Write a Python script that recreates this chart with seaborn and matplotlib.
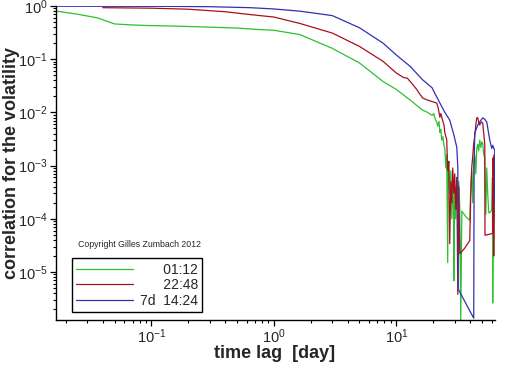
# volatility correlation vs time lag, log-log
import pandas as pd
import numpy as np
import matplotlib
matplotlib.use("Agg")
import matplotlib.pyplot as plt
import seaborn as sns

# series values (x: lag in days, y: correlation)
green_x = [0.0167, 0.025, 0.036, 0.05, 0.07, 0.092, 0.15, 0.3, 0.5, 0.77, 1.0, 1.63, 3.0, 5.0, 7.8,
           10.0, 13.0, 16.4, 18.0, 19.6, 20.2, 20.8, 21.4, 21.8, 22.3, 22.7, 23.1, 23.5, 24.0, 24.5,
           24.9, 25.4, 25.8, 26.3, 26.5, 26.8, 27.3, 27.9, 28.4, 28.9, 29.3, 29.5, 30.0, 30.6, 31.2,
           31.8, 32.4, 33.0, 33.6, 34.3, 36.9, 39.8, 40.6, 41.3, 42.1, 42.9, 43.7, 44.6, 45.4, 46.3,
           47.1, 48.0, 49.0, 49.9, 50.8, 51.8, 52.8, 53.8, 54.8, 55.8, 56.9, 58.0, 60.2, 61.0, 61.3,
           61.8, 62.5, 63.1, 63.7, 64.3, 64.9]
green_y = [0.80, 0.70, 0.60, 0.46, 0.44, 0.43, 0.42, 0.40, 0.385, 0.36, 0.35, 0.29, 0.16, 0.085, 0.038,
           0.027, 0.017, 0.011, 0.010, 0.0088, 0.0095, 0.0075, 0.0065, 0.0055, 0.0068, 0.0042, 0.0048, 0.0030, 0.0035, 0.0024,
           0.0021, 0.0009, 0.0016, 1.5e-5, 8e-4, 0.0012, 3e-4, 8e-4, 1e-4, 5e-4, 2e-4, 6.8e-6, 4e-4, 1e-4, 6e-4,
           2e-4, 5e-4, 1.5e-4, 1.2e-6, 1.4e-4, 1.1e-4, 9.3e-5, 4e-4, 8e-4, 2e-4, 0.0012, 0.0016, 7e-4, 0.0021, 0.0025,
           0.0019, 0.0030, 0.0022, 0.0028, 0.0026, 0.0016, 0.0014, 1.2e-4, 9e-4, 3e-4, 1.3e-4, 1.3e-4, 1.45e-4, 6e-4, 2.6e-6,
           1.4e-4, 5e-4, 1.2e-4, 1e-4, 1.1e-4, 2e-6]

red_x = [0.04, 0.1, 0.2, 0.4, 0.64, 1.0, 1.63, 3.0, 5.0, 7.8, 10.0, 11.5, 12.3, 13.0, 14.5, 16.4,
         18.0, 19.6, 21.4, 22.0, 22.7, 23.1, 24.0, 24.5, 24.9, 25.4, 25.8, 26.3, 26.8, 27.3, 27.9,
         28.4, 28.9, 29.5, 30.0, 30.6, 31.2, 31.8, 32.4, 33.0, 36.2, 39.8, 40.6, 41.3, 42.1, 42.9,
         43.7, 44.6, 45.4, 46.3, 47.1, 48.0, 49.0, 49.9, 50.8, 51.8, 52.8, 53.0, 61.3, 61.8, 62.5,
         63.1, 63.7, 64.3, 64.9]
red_y = [0.93, 0.91, 0.87, 0.78, 0.69, 0.62, 0.47, 0.31, 0.174, 0.091, 0.055, 0.045, 0.044, 0.038, 0.028, 0.0186,
         0.017, 0.016, 0.015, 0.012, 0.0081, 0.0095, 0.0068, 0.0058, 0.0042, 0.0035, 0.0031, 8e-4, 0.0012, 3.4e-5, 5e-4,
         2e-4, 9e-4, 3e-4, 7e-4, 1.5e-4, 6e-4, 3.8e-6, 4e-4, 2.2e-5, 2.8e-5, 3.9e-5, 3e-4, 9e-4, 0.0015, 0.0026,
         0.0035, 0.0058, 0.0079, 0.0079, 0.0066, 0.0058, 0.0064, 0.0066, 0.0063, 0.0040, 0.0025, 4.9e-5, 5.3e-5, 0.0014, 2e-5,
         0.0016, 3e-4, 0.0012, 1.5e-5]

blue_x = [0.0167, 0.134, 0.3, 0.64, 1.0, 1.63, 3.0, 5.0, 7.8, 10.0, 13.0, 16.4, 19.6, 20.6, 22.7,
          24.9, 27.3, 29.5, 31.2, 31.8, 32.0, 42.9, 43.2, 43.7, 46.3, 48.0, 50.8, 52.8, 54.8, 58.0,
          60.2, 61.3, 63.7, 64.0, 64.3, 64.9]
blue_y = [0.99, 0.985, 0.97, 0.93, 0.88, 0.80, 0.66, 0.39, 0.20, 0.12, 0.073, 0.041, 0.029, 0.023, 0.015,
          0.010, 0.0072, 0.0038, 0.0022, 9.3e-4, 4.8e-6, 1.35e-6, 9.3e-4, 0.0041, 0.0058, 0.0066, 0.0079, 0.0074, 0.0066, 0.0030,
          0.0021, 0.0024, 0.0019, 2e-4, 0.0012, 1.5e-5]

series_names = ["01:12", "22:48", "7d 14:24"]
colors = ["#2ec02e", "#a8101e", "#3030b4"]
legend_labels = ["      01:12", "      22:48", "7d  14:24"]

frames = []
for name, xs, ys in zip(series_names, [green_x, red_x, blue_x], [green_y, red_y, blue_y]):
    frames.append(pd.DataFrame({"lag": xs, "corr": ys, "series": name}))
df = pd.concat(frames, ignore_index=True)

sns.set_style("ticks")
plt.rcParams["font.family"] = ["Liberation Sans", "DejaVu Sans"]
plt.rcParams["mathtext.default"] = "regular"

fig = plt.figure(figsize=(5.12, 3.66), dpi=100)
ax = fig.add_axes([56 / 512, 46 / 366, 439 / 512, 314 / 366])

sns.lineplot(data=df, x="lag", y="corr", hue="series", hue_order=series_names,
             palette=dict(zip(series_names, colors)), estimator=None, sort=False,
             lw=0.9, ax=ax)

ax.set_xscale("log")
ax.set_yscale("log")
ax.set_xlim(0.0166, 64)
ax.set_ylim(1.25e-6, 1.0)

sns.despine(ax=ax)
for s in ["left", "bottom"]:
    ax.spines[s].set_linewidth(1.0)
    ax.spines[s].set_color("black")

ax.tick_params(which="major", length=4, width=0.9, direction="out", labelsize=10.5, pad=2, color="black")
ax.tick_params(which="minor", length=2.5, width=0.8, direction="out", color="black")
ax.tick_params(axis="x", which="major", pad=1)

ax.set_xlabel("time lag  [day]", fontsize=13, fontweight="bold")
ax.set_ylabel("correlation for the volatility", fontsize=13, fontweight="bold")
ax.xaxis.set_label_coords(0.499, -0.081)
ax.yaxis.set_label_coords(-0.082, 0.5)

ax.text(0.05, 0.242, "Copyright Gilles Zumbach 2012", transform=ax.transAxes,
        fontsize=6.3, va="center", ha="left")

handles, _ = ax.get_legend_handles_labels()
leg = ax.legend(handles, legend_labels, loc="lower left", bbox_to_anchor=(0.036, 0.025),
                borderaxespad=0, fontsize=10, handlelength=4.1, handletextpad=0.5,
                labelspacing=0.12, borderpad=0.3, fancybox=False, framealpha=1,
                edgecolor="black")
leg.get_frame().set_linewidth(1.0)

fig.savefig("out.png", dpi=100)
